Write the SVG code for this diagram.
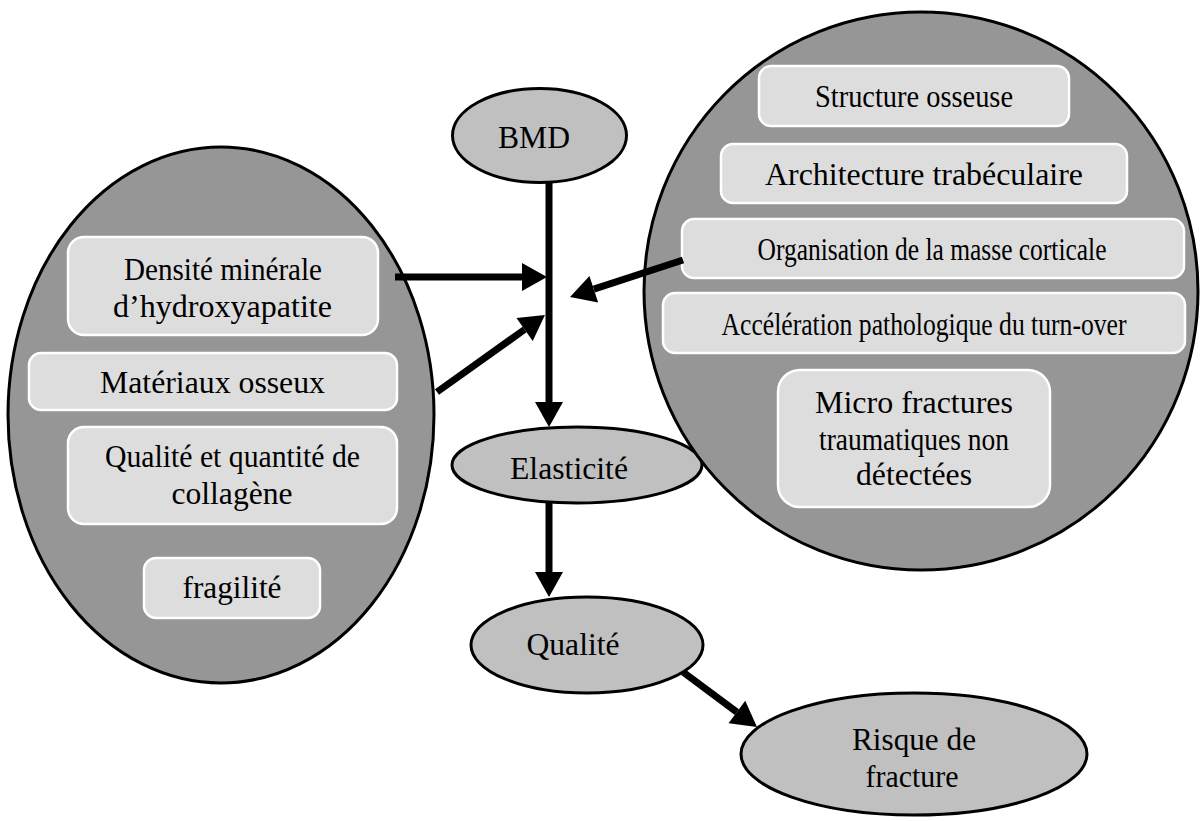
<svg xmlns="http://www.w3.org/2000/svg" width="1201" height="821" viewBox="0 0 1201 821">
<style>
.big{fill:#969696;stroke:#000;stroke-width:3}
.small{fill:#c0c0c0;stroke:#000;stroke-width:3}
.box{fill:#dddddd;stroke:#ffffff;stroke-width:2.5}
.t{font-family:"Liberation Serif","Times New Roman",serif;font-size:31px;fill:#000;text-anchor:middle}
.c{stroke:#000;stroke-width:7;fill:none;marker-end:url(#ah)}
</style>
<defs>
<marker id="ah" markerUnits="userSpaceOnUse" markerWidth="26" markerHeight="30" refX="0" refY="15" orient="auto" overflow="visible">
<path d="M0,1 L25,15 L0,29 Z" fill="#000"/>
</marker>
</defs>
<rect width="1201" height="821" fill="#fff"/>

<g id="left-group">
<ellipse class="big" cx="221" cy="415" rx="213" ry="268"/>
<g id="densite">
<rect class="box" x="68" y="237" width="310" height="98" rx="16"/>
<text class="t" x="223" y="280" textLength="198" lengthAdjust="spacingAndGlyphs">Densité minérale</text>
<text class="t" x="222.5" y="317" textLength="219" lengthAdjust="spacingAndGlyphs">d’hydroxyapatite</text>
</g>
<g id="materiaux">
<rect class="box" x="29" y="353" width="368" height="57" rx="12"/>
<text class="t" x="212.5" y="393" textLength="225" lengthAdjust="spacingAndGlyphs">Matériaux osseux</text>
</g>
<g id="collagene">
<rect class="box" x="68" y="427" width="329" height="97" rx="16"/>
<text class="t" x="232.5" y="467" textLength="255" lengthAdjust="spacingAndGlyphs">Qualité et quantité de</text>
<text class="t" x="232" y="504" textLength="121" lengthAdjust="spacingAndGlyphs">collagène</text>
</g>
<g id="fragilite">
<rect class="box" x="144" y="558" width="176" height="60" rx="12"/>
<text class="t" x="232" y="598" textLength="99" lengthAdjust="spacingAndGlyphs">fragilité</text>
</g>
</g>

<g id="elasticite">
<ellipse class="small" cx="577" cy="465" rx="125" ry="38"/>
<text class="t" x="569" y="479" textLength="118" lengthAdjust="spacingAndGlyphs">Elasticité</text>
</g>

<g id="right-group">
<ellipse class="big" cx="921" cy="291" rx="277" ry="279"/>
<g id="structure">
<rect class="box" x="759" y="66" width="310" height="60" rx="12"/>
<text class="t" x="914" y="107" textLength="198" lengthAdjust="spacingAndGlyphs">Structure osseuse</text>
</g>
<g id="architecture">
<rect class="box" x="721" y="144" width="406" height="59" rx="12"/>
<text class="t" x="924" y="185" textLength="318" lengthAdjust="spacingAndGlyphs">Architecture trabéculaire</text>
</g>
<g id="organisation">
<rect class="box" x="682" y="219" width="502" height="59" rx="12"/>
<text class="t" x="932" y="260" textLength="349" lengthAdjust="spacingAndGlyphs">Organisation de la masse corticale</text>
</g>
<g id="acceleration">
<rect class="box" x="663" y="293" width="522" height="60" rx="12"/>
<text class="t" x="924" y="335" textLength="405" lengthAdjust="spacingAndGlyphs">Accélération pathologique du turn-over</text>
</g>
<g id="micro">
<rect class="box" x="778" y="370" width="272" height="137" rx="22"/>
<text class="t" x="914" y="413" textLength="198" lengthAdjust="spacingAndGlyphs">Micro fractures</text>
<text class="t" x="914" y="450" textLength="190" lengthAdjust="spacingAndGlyphs">traumatiques non</text>
<text class="t" x="914" y="485" textLength="116" lengthAdjust="spacingAndGlyphs">détectées</text>
</g>
</g>

<g id="connectors">
<path class="c" d="M549,183 L549,402"/>
<path class="c" d="M549,503 L549,572"/>
<path class="c" d="M395,277 L522,277"/>
<path class="c" d="M437,392 L524.6,329.5"/>
<path class="c" d="M683,260 L593.8,289.2"/>
<path class="c" d="M683,672 L736.9,712.1"/>
</g>

<g id="bmd">
<ellipse class="small" cx="539.5" cy="135.5" rx="87" ry="47"/>
<text class="t" x="534" y="148" textLength="72" lengthAdjust="spacingAndGlyphs">BMD</text>
</g>
<g id="qualite">
<ellipse class="small" cx="587" cy="645" rx="116" ry="48"/>
<text class="t" x="573" y="655" textLength="93" lengthAdjust="spacingAndGlyphs">Qualité</text>
</g>
<g id="risque">
<ellipse class="small" cx="914" cy="754" rx="173" ry="61"/>
<text class="t" x="914" y="750" textLength="124" lengthAdjust="spacingAndGlyphs">Risque de</text>
<text class="t" x="912" y="787" textLength="93" lengthAdjust="spacingAndGlyphs">fracture</text>
</g>
</svg>
